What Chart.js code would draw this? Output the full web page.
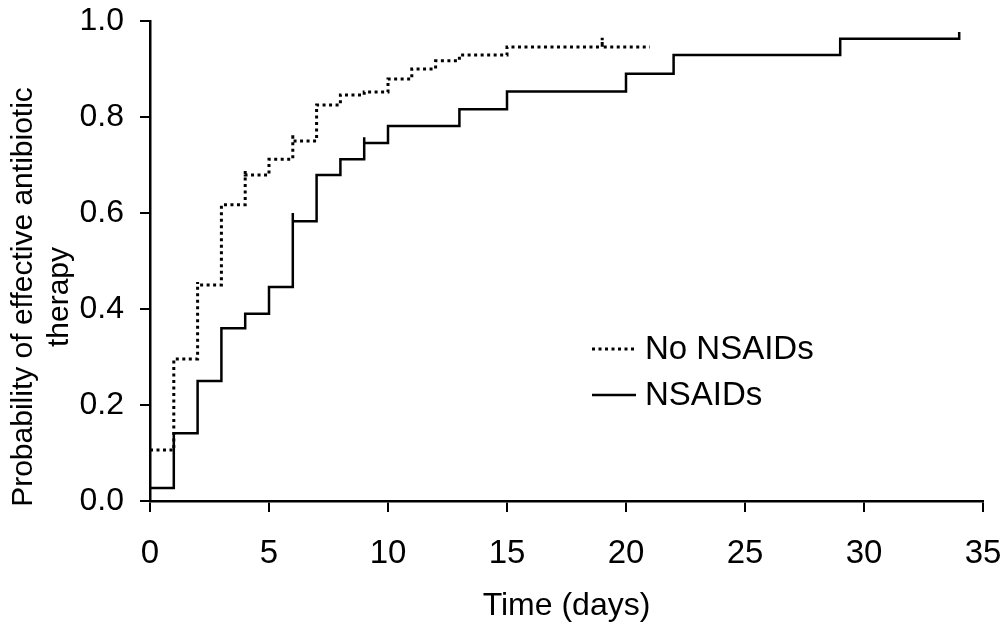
<!DOCTYPE html>
<html>
<head>
<meta charset="utf-8">
<script src="https://cdn.jsdelivr.net/npm/chart.js@4/dist/chart.umd.min.js"></script>
<style>
html,body{margin:0;padding:0;background:#fff;}
#wrap{width:1004px;height:633px;}
</style>
</head>
<body>
<div id="wrap"><canvas id="c" width="1004" height="633"></canvas></div>
<script>
// ---- data ----
const xTicks = [0, 5, 10, 15, 20, 25, 30, 35];
const yTicks = [0.0, 0.2, 0.4, 0.6, 0.8, 1.0];

const nsaidTimes  = [0, 1, 2, 3, 4, 5, 6, 7, 8, 9, 10, 13, 15, 20, 22, 29, 34];
const nsaidValues = [0.027, 0.141, 0.25, 0.36, 0.39, 0.446, 0.583, 0.679, 0.712, 0.746, 0.781, 0.816, 0.853, 0.89, 0.929, 0.963, 0.963];
const nsaidCensorTimes = [6, 9, 34];
const nsaidCensorTops  = [0.60, 0.758, 0.977];

const noNsaidTimes  = [0, 1, 2, 3, 4, 5, 6, 7, 8, 9, 10, 11, 12, 13, 15, 21];
const noNsaidValues = [0.106, 0.296, 0.45, 0.617, 0.679, 0.712, 0.75, 0.825, 0.846, 0.852, 0.879, 0.9, 0.917, 0.929, 0.946, 0.946];
const noNsaidCensorTimes = [2, 4, 6, 19];
const noNsaidCensorTops  = [0.456, 0.6875, 0.765, 0.965];

const seriesLabels = ['No NSAIDs', 'NSAIDs'];
const xTitle = 'Time (days)';
const yTitle = ['Probability of effective antibiotic', 'therapy'];

// build step points (value applies from its time onward); censor ticks as short upward strokes
function buildSteps(times, values, cTimes, cTops) {
  const pts = [];
  let last = values[0];
  const allT = Array.from(new Set(times.concat(cTimes))).sort((a, b) => a - b);
  allT.forEach(t => {
    const i = times.indexOf(t);
    const v = i >= 0 ? values[i] : last;
    const ci = cTimes.indexOf(t);
    if (ci >= 0) pts.push({x: t, y: cTops[ci]});
    pts.push({x: t, y: v});
    last = v;
  });
  return pts;
}

const FONT = "'Liberation Sans', Arial, Helvetica, sans-serif";

const legendPlugin = {
  id: 'kmLegend',
  afterDraw(chart) {
    const ctx = chart.ctx;
    const items = [
      {ds: chart.data.datasets[0], y: 349},
      {ds: chart.data.datasets[1], y: 395}
    ];
    ctx.save();
    items.forEach(it => {
      ctx.beginPath();
      ctx.strokeStyle = it.ds.borderColor;
      ctx.lineWidth = it.ds.borderWidth;
      ctx.setLineDash(it.ds.borderDash || []);
      ctx.moveTo(592, it.y);
      ctx.lineTo(636, it.y);
      ctx.stroke();
      ctx.setLineDash([]);
      ctx.fillStyle = '#000';
      ctx.font = '33px ' + FONT;
      ctx.textBaseline = 'middle';
      ctx.textAlign = 'left';
      ctx.fillText(it.ds.label, 645, it.y + 1);
    });
    // y axis title (two lines, rotated)
    ctx.font = '30px ' + FONT;
    ctx.textAlign = 'center';
    ctx.textBaseline = 'middle';
    const xs = [24, 60];
    yTitle.forEach((line, k) => {
      ctx.save();
      ctx.translate(xs[k], 297);
      ctx.rotate(-Math.PI / 2);
      ctx.fillText(line, 0, 0);
      ctx.restore();
    });
    ctx.restore();
  }
};

new Chart(document.getElementById('c'), {
  type: 'line',
  data: {
    datasets: [
      {
        label: seriesLabels[0],
        data: buildSteps(noNsaidTimes, noNsaidValues, noNsaidCensorTimes, noNsaidCensorTops),
        borderColor: '#000',
        borderWidth: 3,
        borderDash: [3, 3.5],
        stepped: true,
        pointRadius: 0,
        fill: false
      },
      {
        label: seriesLabels[1],
        data: buildSteps(nsaidTimes, nsaidValues, nsaidCensorTimes, nsaidCensorTops),
        borderColor: '#000',
        borderWidth: 2.5,
        stepped: true,
        pointRadius: 0,
        fill: false
      }
    ]
  },
  options: {
    responsive: false,
    animation: false,
    devicePixelRatio: 1,
    layout: {padding: {left: 0, right: 21, top: 21, bottom: 0}},
    plugins: {legend: {display: false}, tooltip: {enabled: false}},
    scales: {
      x: {
        type: 'linear',
        min: xTicks[0],
        max: xTicks[xTicks.length - 1],
        afterBuildTicks: s => { s.ticks = xTicks.map(v => ({value: v})); },
        afterFit: s => { s.height = 132; s.paddingLeft = 0; s.paddingRight = 0; },
        border: {display: true, color: '#000', width: 2.5},
        grid: {drawOnChartArea: false, drawTicks: true, tickLength: 11, color: '#000', lineWidth: 2},
        ticks: {color: '#000', font: {family: FONT, size: 33}, padding: 22, maxRotation: 0},
        title: {display: true, text: xTitle, color: '#000', font: {family: FONT, size: 32}, padding: {top: 0, bottom: 8}}
      },
      y: {
        type: 'linear',
        min: yTicks[0],
        max: yTicks[yTicks.length - 1],
        afterBuildTicks: s => { s.ticks = yTicks.map(v => ({value: v})); },
        afterFit: s => { s.width = 150; s.paddingTop = 0; s.paddingBottom = 0; },
        border: {display: true, color: '#000', width: 2.5},
        grid: {drawOnChartArea: false, drawTicks: true, tickLength: 10, color: '#000', lineWidth: 2},
        ticks: {color: '#000', font: {family: FONT, size: 32}, padding: 16, callback: v => Number(v).toFixed(1)}
      }
    }
  },
  plugins: [legendPlugin]
});
</script>
</body>
</html>
